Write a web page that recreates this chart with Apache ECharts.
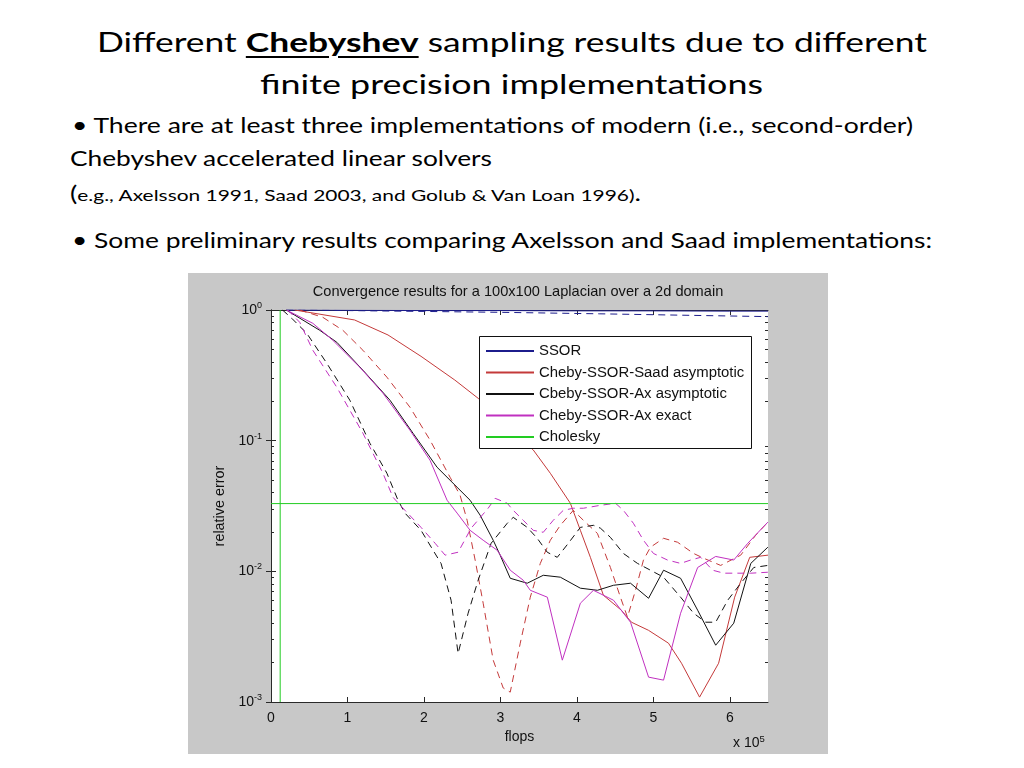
<!DOCTYPE html>
<html>
<head>
<meta charset="utf-8">
<script src="https://cdn.jsdelivr.net/npm/echarts@6/dist/echarts.min.js"></script>
<style>
	body{margin:0;width:1024px;height:768px;overflow:hidden;background:#fff;position:relative;font-family:Lato,"Open Sans",sans-serif;color:#000;}
	.ln{position:absolute;white-space:nowrap;line-height:1;transform-origin:0 0;}
	.title{font-size:27px;}
	.title b{font-weight:bold;text-decoration:underline;text-underline-offset:4px;text-decoration-thickness:2px;}
	.txt{font-size:21px;}
	.small{font-size:16px;}
	#chart{position:absolute;left:188px;top:273px;width:640px;height:481px;}
</style>
</head>
<body>
<div class="ln title" data-left="97" data-w="830" style="top:28px;">Different <b>Chebyshev</b> sampling results due to different</div>
<div class="ln title" data-left="260" data-w="503" style="top:70px;">finite precision implementations</div>
<div class="ln txt" data-left="72" data-w="841" style="top:114px;">&bull; There are at least three implementations of modern (i.e., second-order)</div>
<div class="ln txt" data-left="70" data-w="422" style="top:147px;">Chebyshev accelerated linear solvers</div>
<div class="ln txt" data-left="70" data-w="571" style="top:182px;">(<span class="small">e.g., Axelsson 1991, Saad 2003, and Golub &amp; Van Loan 1996)</span>.</div>
<div class="ln txt" data-left="72" data-w="860" style="top:229px;">&bull; Some preliminary results comparing Axelsson and Saad implementations:</div>
<div id="chart"></div>
<script>
	// flops in units of 1e5, relative error as plotted
	const ssorX = [0.2, 1, 2, 3, 4, 5, 6, 6.5];
	const ssorY = [1.0, 0.995, 0.99, 0.99, 0.985, 0.985, 0.98, 0.98];
	const ssorDashX = [0.2, 1, 2, 3, 4.3, 5.5, 6.5];
	const ssorDashY = [1.0, 0.99, 0.975, 0.96, 0.935, 0.91, 0.89];

	const saadX = [0.31, 1.093, 1.53, 1.962, 2.404, 2.709, 3.43, 3.653, 3.915, 4.046, 4.177, 4.347, 4.582, 4.714, 4.936, 5.198, 5.369, 5.605, 5.854, 6.064, 6.261, 6.5];
	const saadY = [1.0, 0.839, 0.644, 0.442, 0.291, 0.211, 0.0849, 0.0563, 0.0332, 0.0206, 0.0128, 0.00656, 0.00504, 0.00408, 0.00354, 0.00282, 0.00198, 0.00109, 0.00198, 0.00634, 0.0128, 0.0133];
	const saadDashX = [0.376, 0.678, 0.94, 1.202, 1.516, 1.818, 2.08, 2.342, 2.473, 2.565, 2.67, 2.775, 2.906, 3.037, 3.129, 3.26, 3.391, 3.522, 3.653, 3.784, 3.954, 4.085, 4.269, 4.439, 4.57, 4.662, 4.767, 4.871, 4.963, 5.134, 5.317, 5.527, 5.658, 5.881, 6.143, 6.339, 6.498];
	const saadDashY = [1.0, 0.879, 0.699, 0.492, 0.306, 0.18, 0.101, 0.0525, 0.0382, 0.0246, 0.0122, 0.0057, 0.00209, 0.00128, 0.00119, 0.00282, 0.00634, 0.0115, 0.0173, 0.0225, 0.0293, 0.0246, 0.0195, 0.0107, 0.00634, 0.00446, 0.00716, 0.0122, 0.0153, 0.0179, 0.0167, 0.0137, 0.0126, 0.0111, 0.0133, 0.0189, 0.0238];

	const axAsymX = [0.2, 0.638, 0.861, 1.202, 1.556, 1.857, 2.172, 2.434, 2.604, 2.735, 2.906, 2.997, 3.129, 3.351, 3.561, 3.784, 4.046, 4.269, 4.479, 4.702, 4.938, 5.134, 5.357, 5.58, 5.816, 6.052, 6.275, 6.498];
	const axAsymY = [1.0, 0.699, 0.566, 0.346, 0.204, 0.114, 0.0626, 0.044, 0.035, 0.0269, 0.0173, 0.0133, 0.00885, 0.00811, 0.00933, 0.00902, 0.00743, 0.00716, 0.00782, 0.00811, 0.00622, 0.0102, 0.00885, 0.00504, 0.00272, 0.00401, 0.0115, 0.0153];
	const axAsymDashX = [0.15, 0.271, 0.468, 0.73, 1.031, 1.294, 1.516, 1.661, 1.752, 1.962, 2.224, 2.355, 2.447, 2.578, 2.709, 2.879, 3.089, 3.168, 3.351, 3.482, 3.613, 3.744, 3.889, 4.046, 4.217, 4.308, 4.439, 4.609, 4.793, 4.963, 5.134, 5.357, 5.527, 5.685, 5.816, 5.973, 6.144, 6.314, 6.498];
	const axAsymDashY = [1.0, 0.864, 0.663, 0.391, 0.204, 0.0955, 0.0563, 0.035, 0.0279, 0.0206, 0.0115, 0.00601, 0.00235, 0.00478, 0.00855, 0.0164, 0.0233, 0.0259, 0.0217, 0.0179, 0.014, 0.0128, 0.0164, 0.0217, 0.0225, 0.0214, 0.0182, 0.0137, 0.0115, 0.0102, 0.00902, 0.00634, 0.00478, 0.00408, 0.00408, 0.00601, 0.00811, 0.0107, 0.0111];

	const axExactX = [0.2, 0.547, 0.809, 1.163, 1.464, 1.818, 2.08, 2.303, 2.434, 2.604, 2.775, 2.958, 3.129, 3.299, 3.391, 3.614, 3.81, 4.046, 4.217, 4.479, 4.702, 4.938, 5.134, 5.357, 5.58, 5.816, 6.052, 6.236, 6.498];
	const axExactY = [1.0, 0.791, 0.586, 0.364, 0.231, 0.12, 0.0708, 0.035, 0.0279, 0.0206, 0.0173, 0.0145, 0.0102, 0.00855, 0.00716, 0.00634, 0.00209, 0.0057, 0.00716, 0.00601, 0.00408, 0.00155, 0.00147, 0.00478, 0.0107, 0.013, 0.0122, 0.0164, 0.0238];
	const axExactDashX = [0.219, 0.376, 0.547, 0.861, 1.202, 1.464, 1.595, 1.752, 1.962, 2.146, 2.277, 2.447, 2.618, 2.84, 2.932, 3.089, 3.168, 3.299, 3.43, 3.561, 3.692, 3.823, 3.954, 4.085, 4.308, 4.505, 4.609, 4.74, 4.871, 5.002, 5.186, 5.357, 5.488, 5.619, 5.776, 5.921, 6.104, 6.275, 6.498];
	const axExactDashY = [1.0, 0.805, 0.492, 0.256, 0.114, 0.0563, 0.0369, 0.0293, 0.0217, 0.0164, 0.0133, 0.014, 0.0214, 0.0304, 0.0362, 0.0332, 0.0293, 0.0246, 0.0206, 0.0199, 0.0246, 0.0293, 0.0304, 0.0304, 0.032, 0.0332, 0.0293, 0.0233, 0.0173, 0.0137, 0.0122, 0.0115, 0.0122, 0.0128, 0.0102, 0.00968, 0.00968, 0.00968, 0.00984];

	// Cholesky: direct solve cost (vertical) and its error (horizontal)
	const cholFlops = 0.12;
	const cholErr = 0.033;

	const legendNames = ['SSOR', 'Cheby-SSOR-Saad asymptotic', 'Cbeby-SSOR-Ax asymptotic', 'Cheby-SSOR-Ax exact', 'Cholesky'];
	const xTicks = [0, 1, 2, 3, 4, 5, 6];
	const xMax = 6.5;
	const yTicks = [0.001, 0.01, 0.1, 1];
	const yMinorTicks = [0.002, 0.003, 0.004, 0.005, 0.006, 0.007, 0.008, 0.009,
		0.02, 0.03, 0.04, 0.05, 0.06, 0.07, 0.08, 0.09,
		0.2, 0.3, 0.4, 0.5, 0.6, 0.7, 0.8, 0.9];

	// stretch the slide text lines to the widths of the original slide
	document.querySelectorAll('.ln').forEach(el => {
		let w = el.getBoundingClientRect().width;
		el.style.left = el.dataset.left + 'px';
		el.style.transform = `scaleX(${el.dataset.w / w})`;
	});

	const FONT = '"Liberation Sans", Arial, sans-serif';
	const AXIS_COLOR = '#2a2a2a';
	const C_BLUE = '#1c1c8c';
	const C_RED = '#c43a3a';
	const C_BLACK = '#111';
	const C_MAG = '#c030c0';
	const C_GREEN = '#22cc22';

	const pair = (xs, ys) => xs.map((x, i) => [x, ys[i]]);

	let make_line = (name, xs, ys, color, dashed) => ({
		name: name,
		type: 'line',
		data: xs.length ? pair(xs, ys) : ys,
		symbol: 'none',
		showSymbol: false,
		silent: true,
		animation: false,
		connectNulls: false,
		z: 2,
		itemStyle: {color: color},
		lineStyle: {color: color, width: 1, type: dashed ? [7, 5] : 'solid'}
	});

	let tick_axis = (extra) => Object.assign({
		axisLine: {show: true, lineStyle: {color: AXIS_COLOR, width: 1}},
		splitLine: {show: false},
		axisLabel: {show: false},
		axisTick: {show: true, inside: true, length: 5, lineStyle: {color: AXIS_COLOR}}
	}, extra);

	let ticks = (vals, len) => ({show: true, inside: true, length: len, customValues: vals, lineStyle: {color: AXIS_COLOR}});

	let yLabel = {
		show: true,
		margin: 9,
		customValues: yTicks,
		formatter: v => `{b|10}{s|${Math.round(Math.log10(v))}}`,
		rich: {
			b: {fontSize: 14, fontFamily: FONT, color: '#111'},
			s: {fontSize: 9, fontFamily: FONT, color: '#111', padding: [0, 0, 9, 0]}
		}
	};

	let cholData = [[cholFlops, 1], [cholFlops, 0.001], '-', [0, cholErr], [xMax, cholErr]];

	let series = [
		make_line('SSOR', ssorX, ssorY, C_BLUE, false),
		make_line('SSOR dashed', ssorDashX, ssorDashY, C_BLUE, true),
		make_line('Cheby-SSOR-Saad asymptotic', saadX, saadY, C_RED, false),
		make_line('Saad dashed', saadDashX, saadDashY, C_RED, true),
		make_line('Cbeby-SSOR-Ax asymptotic', axAsymX, axAsymY, C_BLACK, false),
		make_line('Ax asymptotic dashed', axAsymDashX, axAsymDashY, C_BLACK, true),
		make_line('Cheby-SSOR-Ax exact', axExactX, axExactY, C_MAG, false),
		make_line('Ax exact dashed', axExactDashX, axExactDashY, C_MAG, true),
		make_line('Cholesky', [], cholData, C_GREEN, false)
	];

	let myChart = echarts.init(document.getElementById('chart'));
	let option = {
		backgroundColor: '#c8c8c8',
		animation: false,
		textStyle: {fontFamily: FONT},
		grid: {
			left: 83, top: 37, width: 497, height: 392,
			show: true, backgroundColor: '#fff', borderWidth: 0
		},
		legend: {
			data: legendNames,
			orient: 'vertical',
			left: 297, top: 70.5,
			padding: 0,
			itemWidth: 48, itemHeight: 15, itemGap: 6.5, itemTextGap: 5,
			itemStyle: {opacity: 0},
			textStyle: {fontSize: 14.9, fontFamily: FONT, color: '#111'},
			selectedMode: false,
			z: 10
		},
		graphic: [
			{type: 'rect', z: 5, shape: {x: 291.5, y: 63.5, width: 272, height: 112},
				style: {fill: '#fff', stroke: '#111', lineWidth: 1}},
			{type: 'text', z: 5, style: {text: 'Convergence results for a 100x100 Laplacian over a 2d domain',
				x: 330, y: 19, align: 'center', verticalAlign: 'middle', fontSize: 14.6, fontFamily: FONT, fill: '#111'}},
			{type: 'text', z: 5, style: {text: '{a|x 10}{s|5}', x: 545, y: 461,
				rich: {a: {fontSize: 14, fontFamily: FONT, fill: '#111'}, s: {fontSize: 9.5, fontFamily: FONT, fill: '#111', padding: [0, 0, 9, 0]}}}}
		],
		xAxis: [
			tick_axis({
				type: 'value', min: 0, max: xMax, position: 'bottom',
				name: 'flops', nameLocation: 'middle', nameGap: 26,
				nameTextStyle: {fontSize: 14, fontFamily: FONT, color: '#111'},
				axisTick: ticks(xTicks, 5),
				axisLabel: {show: true, customValues: xTicks, margin: 9, fontSize: 14, fontFamily: FONT, color: '#111'}
			}),
			tick_axis({type: 'value', min: 0, max: xMax, position: 'top', axisTick: ticks(xTicks, 5)})
		],
		yAxis: [
			tick_axis({
				type: 'log', logBase: 10, min: 0.001, max: 1, position: 'left',
				name: 'relative error', nameLocation: 'middle', nameGap: 38, nameRotate: 90,
				nameTextStyle: {fontSize: 14.4, fontFamily: FONT, color: '#111'},
				axisTick: ticks(yTicks, 5),
				axisLabel: yLabel
			}),
			tick_axis({type: 'log', logBase: 10, min: 0.001, max: 1, position: 'right', axisTick: ticks(yTicks, 5)}),
			tick_axis({type: 'log', logBase: 10, min: 0.001, max: 1, position: 'left',
				axisLine: {show: false}, axisTick: ticks(yMinorTicks, 3)}),
			tick_axis({type: 'log', logBase: 10, min: 0.001, max: 1, position: 'right',
				axisLine: {show: false}, axisTick: ticks(yMinorTicks, 3)})
		],
		series: series
	};
	myChart.setOption(option);
</script>
</body>
</html>
